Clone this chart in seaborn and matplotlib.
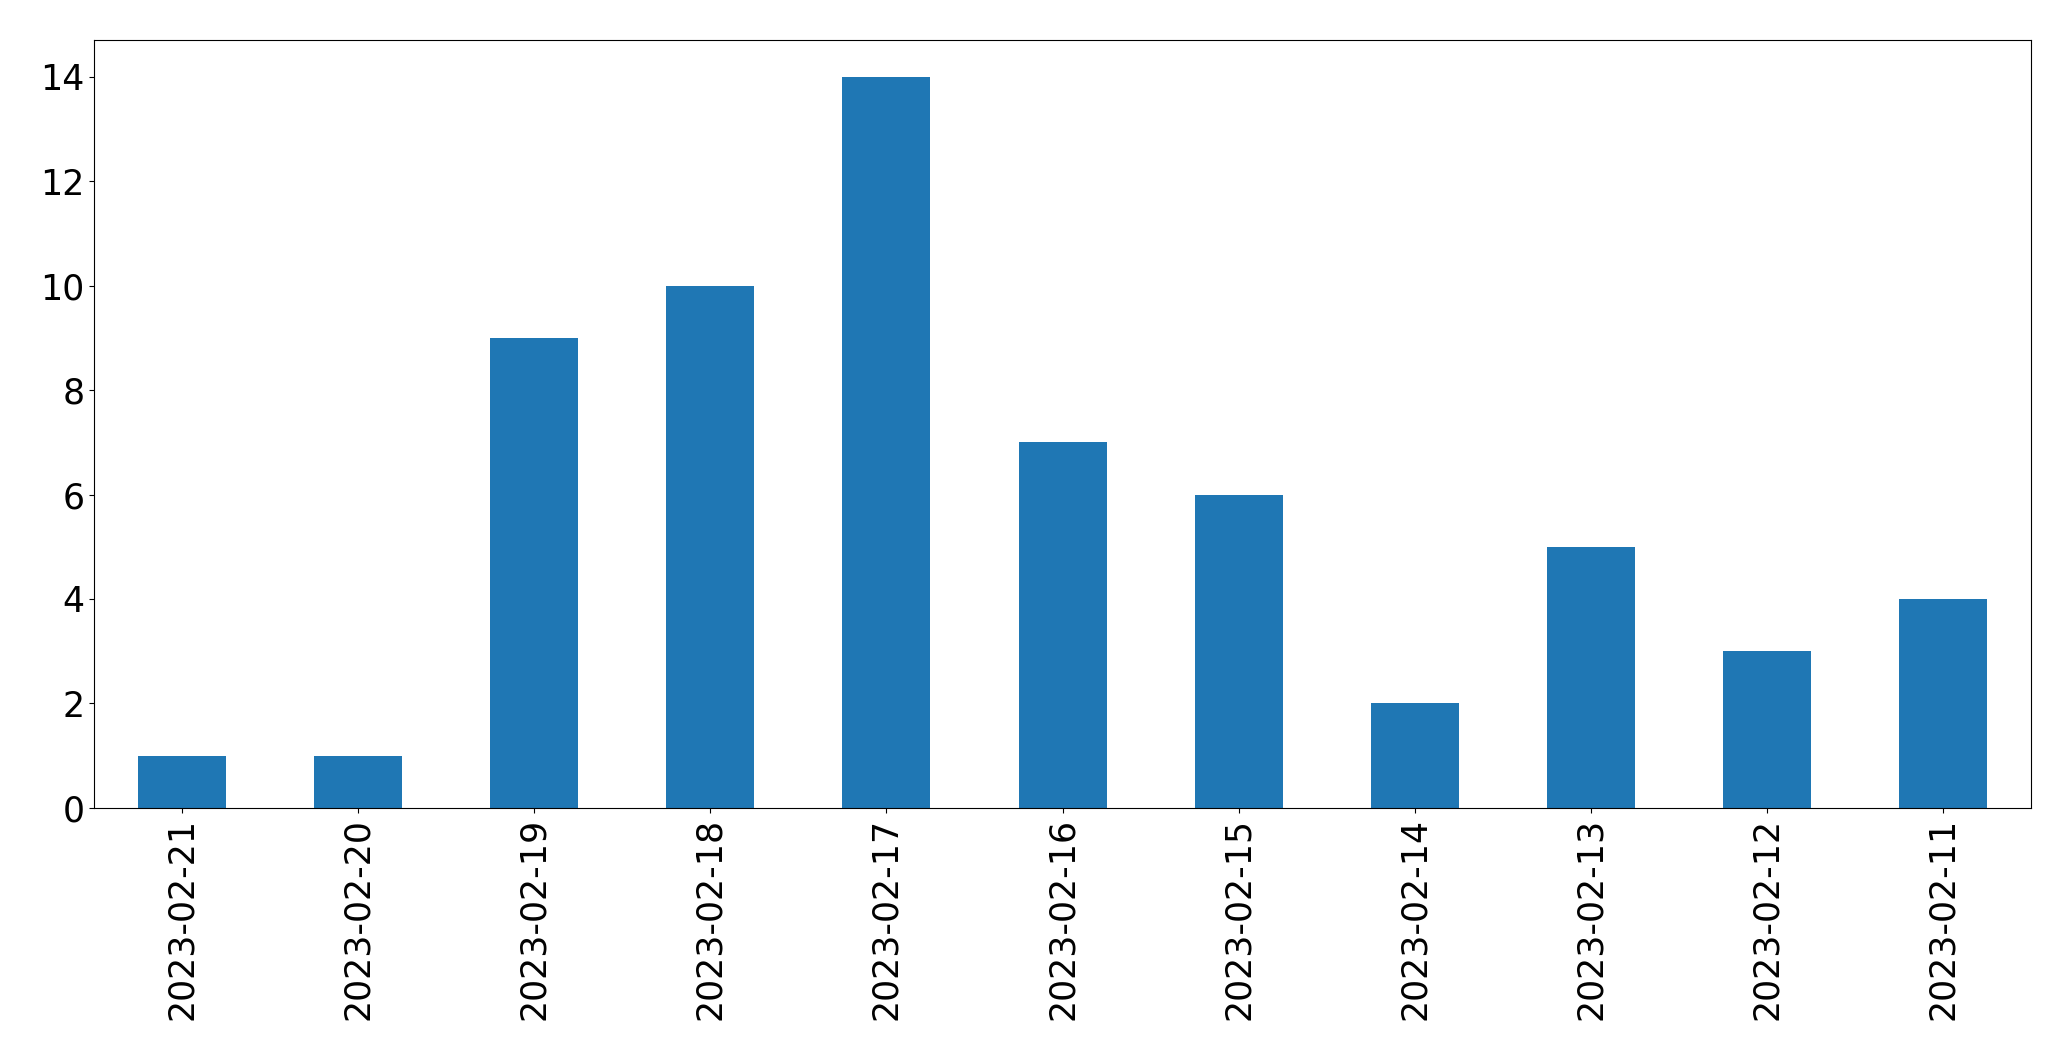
import matplotlib
matplotlib.use("Agg")
import matplotlib.pyplot as plt
import seaborn as sns
import pandas as pd

# data
dates = ['2023-02-21', '2023-02-20', '2023-02-19', '2023-02-18', '2023-02-17', '2023-02-16',
         '2023-02-15', '2023-02-14', '2023-02-13', '2023-02-12', '2023-02-11']
counts = [1, 1, 9, 10, 14, 7, 6, 2, 5, 3, 4]

df = pd.DataFrame({'date': dates, 'count': counts})

plt.rcParams['font.family'] = ['DejaVu Sans']

fig = plt.figure(figsize=(20.71, 10.61), dpi=100)
ax = fig.add_axes([0.0454, 0.2385, 0.9353, 0.7238])
sns.barplot(data=df, x='date', y='count', color='#1f77b4', saturation=1, width=0.5,
            linewidth=0, edgecolor='none', ax=ax)
ax.set_xlim(-0.5, len(dates) - 0.5)
ax.set_ylim(0, 14.7)
ax.set_xlabel('')
ax.set_ylabel('')
ax.tick_params(axis='x', labelrotation=90, labelsize=25, colors='black')
ax.tick_params(axis='y', labelsize=25, colors='black')
for s in ax.spines.values():
    s.set_visible(True)
    s.set_color('black')
    s.set_linewidth(0.8)
fig.savefig("out.png", dpi=100)
